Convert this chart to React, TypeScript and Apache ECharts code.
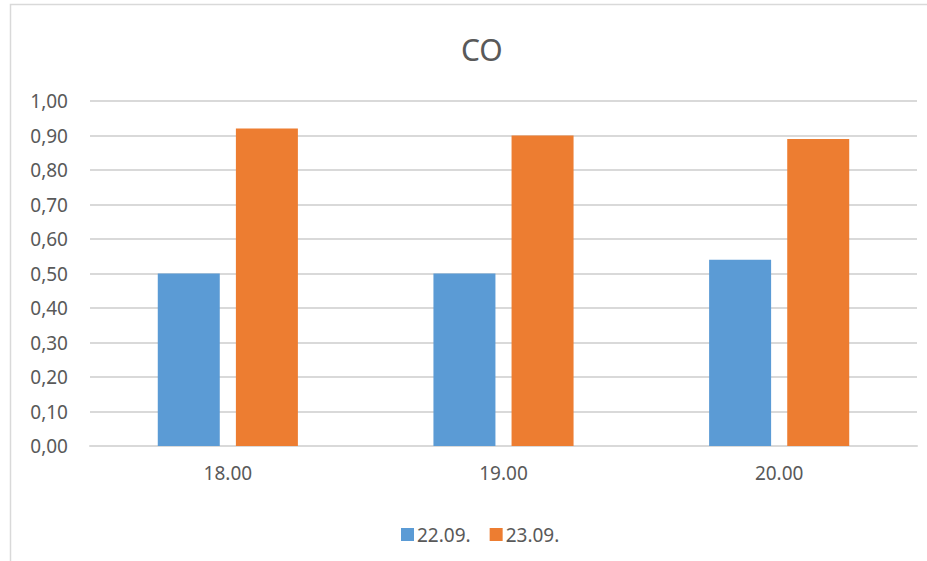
import React, { useEffect, useRef } from "react";
import * as echarts from "echarts";

const categories = ["18.00", "19.00", "20.00"];
const series1Name = "22.09.";
const series2Name = "23.09.";
const series1 = [0.5, 0.5, 0.54];
const series2 = [0.92, 0.9, 0.89];
const yTicks = { min: 0, max: 1, interval: 0.1 };

const FONT = "'Noto Sans', sans-serif";
const TXT = "#595959";

export default function App() {
  const ref = useRef<HTMLDivElement>(null);
  useEffect(() => {
    if (!ref.current) return;
    const chart = echarts.init(ref.current, null, { renderer: "svg" });
    chart.setOption({
      animation: false,
      backgroundColor: "#ffffff",
      textStyle: { fontFamily: FONT },
      title: {
        text: "CO",
        left: 456,
        top: 29,
        textStyle: { fontFamily: FONT, fontSize: 30, fontWeight: "normal", color: TXT },
      },
      graphic: [
        {
          type: "rect",
          shape: { x: 10.5, y: 4.5, width: 1200, height: 1200 },
          style: { fill: "none", stroke: "#d9d9d9", lineWidth: 1.5 },
          silent: true,
        },
      ],
      legend: {
        left: 396,
        top: 520,
        itemWidth: 13,
        itemHeight: 13,
        itemGap: 19,
        icon: "rect",
        textStyle: { fontFamily: FONT, fontSize: 19, color: TXT, padding: [0, 0, 0, -2] },
        data: [series1Name, series2Name],
      },
      grid: { left: 90, right: 10, top: 101, bottom: 115, containLabel: false },
      xAxis: {
        type: "category",
        data: categories,
        axisLine: { show: true, lineStyle: { color: "#d9d9d9", width: 2 } },
        axisTick: { show: false },
        axisLabel: { fontFamily: FONT, fontSize: 19, color: TXT, margin: 17 },
      },
      yAxis: {
        type: "value",
        min: yTicks.min,
        max: yTicks.max,
        interval: yTicks.interval,
        axisLine: { show: false },
        axisTick: { show: false },
        splitLine: { lineStyle: { color: "#d9d9d9", width: 2 } },
        axisLabel: {
          fontFamily: FONT,
          fontSize: 19,
          color: TXT,
          margin: 22,
          formatter: (v: number) => v.toFixed(2).replace(".", ","),
        },
      },
      series: [
        {
          name: series1Name,
          type: "bar",
          data: series1,
          barWidth: 62,
          barGap: "26%",
          itemStyle: { color: "#5b9bd5" },
        },
        {
          name: series2Name,
          type: "bar",
          data: series2,
          barWidth: 62,
          barGap: "26%",
          itemStyle: { color: "#ed7d31" },
        },
      ],
    });
    return () => chart.dispose();
  }, []);
  return (
    <div
      ref={ref}
      style={{ position: "absolute", left: 0, top: 0, width: 927, height: 561 }}
    />
  );
}
